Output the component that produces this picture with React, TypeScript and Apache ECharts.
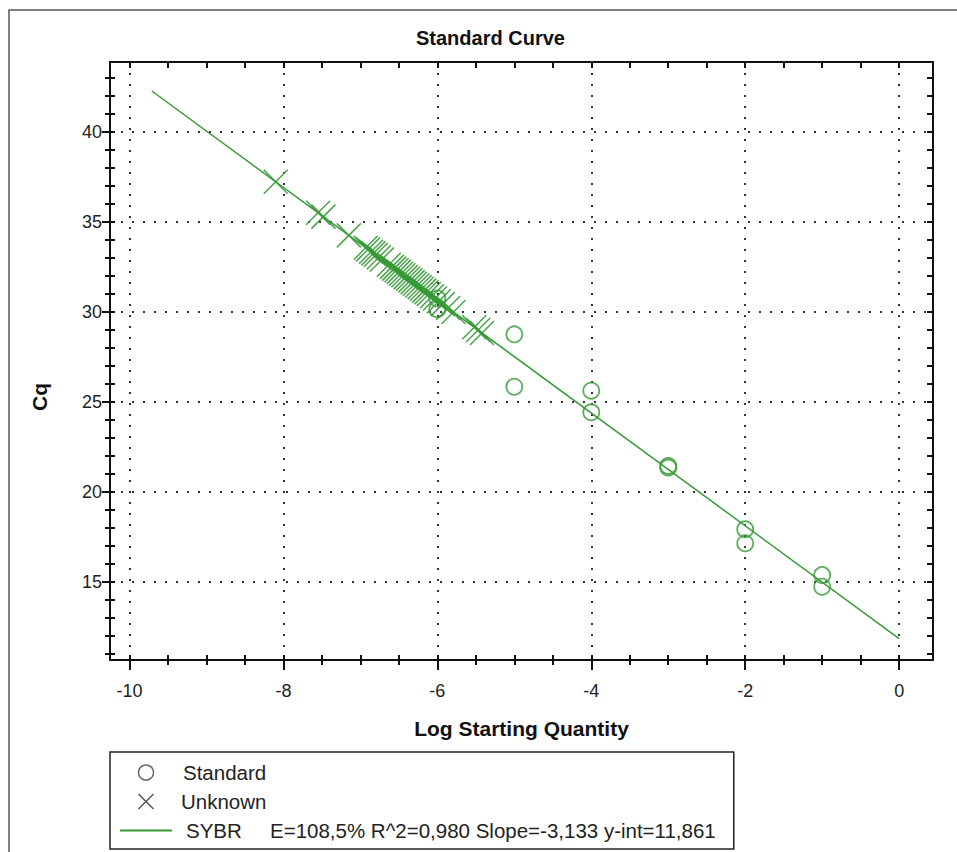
import React, { useEffect, useRef } from 'react';
import * as echarts from 'echarts';

// ---- data ----
const standardX = [-6, -6, -5, -5, -4, -4, -3, -3, -2, -2, -1, -1];
const standardCq = [30.75, 30.15, 28.76, 25.85, 25.63, 24.43, 21.45, 21.36, 17.93, 17.15, 15.39, 14.74];

const unknownX = [
  -8.1, -7.55, -7.48, -7.15, -6.93, -6.9, -6.86, -6.83, -6.8, -6.76, -6.72,
  -6.63, -6.59, -6.56, -6.53, -6.5, -6.47, -6.44, -6.41, -6.38, -6.35, -6.32,
  -6.29, -6.26, -6.23, -6.2, -6.17, -6.14, -6.11, -6.07, -6.03, -5.98, -5.93,
  -5.86, -5.79, -5.52, -5.47, -5.42,
];
const unknownCq = [
  37.24, 35.52, 35.3, 34.26, 33.57, 33.48, 33.35, 33.26, 33.17, 33.04, 32.92,
  32.63, 32.51, 32.41, 32.32, 32.23, 32.13, 32.04, 31.94, 31.85, 31.76, 31.66,
  31.57, 31.47, 31.38, 31.29, 31.19, 31.1, 31.0, 30.88, 30.75, 30.6, 30.44,
  30.22, 30.0, 29.16, 29.0, 28.84,
];

const fitX = [-9.71, 0];
const fitCq = [42.28, 11.86];
const fitLabel = 'E=108,5% R^2=0,980 Slope=-3,133 y-int=11,861';

const xMajorTicks = [-10, -8, -6, -4, -2, 0];
const xMinorTicks = [-9.5, -9, -8.5, -7.5, -7, -6.5, -5.5, -5, -4.5, -3.5, -3, -2.5, -1.5, -1, -0.5];
const yMajorTicks = [15, 20, 25, 30, 35, 40];
const yMinorTicks = [11, 12, 13, 14, 16, 17, 18, 19, 21, 22, 23, 24, 26, 27, 28, 29, 31, 32, 33, 34, 36, 37, 38, 39, 41, 42, 43];

const GREEN = '#379a37';
const FONT = '"Liberation Sans", Arial, sans-serif';

export default function App() {
  const ref = useRef<HTMLDivElement>(null);

  useEffect(() => {
    const chart = echarts.init(ref.current!, undefined, { renderer: 'svg' });
    const xMin = -10.253;
    const xMax = 0.44;
    const yMin = 10.67;
    const yMax = 43.89;
    const tickLine = { color: '#111', width: 2 };
    const dotted = { type: [2, 9], width: 2, color: '#333' };

    const baseX: any = {
      type: 'value', min: xMin, max: xMax, gridIndex: 0,
      axisLine: { show: false, onZero: false }, axisLabel: { show: false },
      splitLine: { show: false }, axisTick: { show: false },
    };
    const baseY: any = {
      type: 'value', min: yMin, max: yMax, gridIndex: 0,
      axisLine: { show: false, onZero: false }, axisLabel: { show: false },
      splitLine: { show: false }, axisTick: { show: false },
    };
    const xAll = [...xMajorTicks, ...xMinorTicks];
    const yAll = [...yMajorTicks, ...yMinorTicks];

    chart.setOption({
      animation: false,
      backgroundColor: '#fff',
      title: {
        text: 'Standard Curve', left: 411, top: 23,
        textStyle: { fontSize: 20, fontWeight: 'bold', color: '#111', fontFamily: FONT },
      },
      graphic: [
        {
          type: 'rect', silent: true, z: -10,
          shape: { x: 9, y: 10, width: 980, height: 880 },
          style: { fill: 'none', stroke: '#555', lineWidth: 1.5 },
        },
      ],
      grid: {
        left: 110, right: 24, top: 62, bottom: 192,
        show: true, borderColor: '#111', borderWidth: 2, backgroundColor: 'transparent',
      },
      xAxis: [
        {
          ...baseX, position: 'bottom',
          axisTick: { show: true, customValues: xMajorTicks, length: 10, lineStyle: tickLine },
          axisLabel: { show: true, customValues: xMajorTicks, margin: 22, fontSize: 18, color: '#222', fontFamily: FONT },
          splitLine: { show: true, lineStyle: dotted },
          name: 'Log Starting Quantity', nameLocation: 'middle', nameGap: 58,
          nameTextStyle: { fontSize: 21, fontWeight: 'bold', color: '#111', fontFamily: FONT },
        },
        { ...baseX, position: 'bottom', axisTick: { show: true, customValues: xMinorTicks, length: 5, lineStyle: tickLine } },
        { ...baseX, position: 'bottom', axisTick: { show: true, inside: true, customValues: xAll, length: 5, lineStyle: tickLine } },
        { ...baseX, position: 'top', axisTick: { show: true, inside: true, customValues: xAll, length: 6, lineStyle: tickLine } },
      ],
      yAxis: [
        {
          ...baseY, position: 'left',
          axisTick: { show: true, customValues: yMajorTicks, length: 8, lineStyle: tickLine },
          axisLabel: { show: true, customValues: yMajorTicks, margin: 8, fontSize: 18, color: '#222', fontFamily: FONT },
          splitLine: { show: true, lineStyle: dotted },
          name: 'Cq', nameLocation: 'middle', nameGap: 60, nameRotate: 90,
          nameTextStyle: { fontSize: 21, fontWeight: 'bold', color: '#111', fontFamily: FONT, padding: [0, 72, 0, 0] },
        },
        { ...baseY, position: 'left', axisTick: { show: true, customValues: yMinorTicks, length: 5, lineStyle: tickLine } },
        { ...baseY, position: 'left', axisTick: { show: true, inside: true, customValues: yAll, length: 5, lineStyle: tickLine } },
        { ...baseY, position: 'right', axisTick: { show: true, inside: true, customValues: yAll, length: 6, lineStyle: tickLine } },
      ],
      legend: {
        orient: 'vertical', left: 110, top: 752,
        padding: [10, 18, 8, 10],
        borderColor: '#222', borderWidth: 1.5,
        itemWidth: 52, itemHeight: 15, itemGap: 8,
        selectedMode: false,
        textStyle: {
          fontSize: 20.5, color: '#222', fontFamily: FONT,
          rich: {
            s: { fontSize: 20.5, fontFamily: FONT, color: '#222', padding: [0, 0, 0, 6] },
            u: { fontSize: 20.5, fontFamily: FONT, color: '#222', padding: [0, 0, 0, 4] },
            n: { fontSize: 20.5, fontFamily: FONT, color: '#222', padding: [0, 0, 0, 9], width: 84 },
            e: { fontSize: 20.5, fontFamily: FONT, color: '#222' },
          },
        },
        formatter: (name: string) => {
          if (name === 'SYBR') return `{n|SYBR}{e|${fitLabel}}`;
          if (name === 'Standard') return `{s|Standard}`;
          return `{u|${name}}`;
        },
        data: [
          { name: 'Standard', icon: 'circle', itemStyle: { color: 'transparent', borderColor: '#444', borderWidth: 1.5 } },
          { name: 'Unknown', icon: 'path://M0,0L10,10M10,0L0,10', itemStyle: { color: 'transparent', borderColor: '#444', borderWidth: 1.5 } },
          { name: 'SYBR', icon: 'path://M0,0L52,0L52,2L0,2Z', itemStyle: { color: GREEN, borderWidth: 0 } },
        ],
      },
      series: [
        {
          name: 'SYBR', type: 'line', xAxisIndex: 0, yAxisIndex: 0,
          data: fitX.map((x, i) => [x, fitCq[i]]),
          symbol: 'none', lineStyle: { color: GREEN, width: 1.5 }, itemStyle: { color: GREEN }, z: 2,
        },
        {
          name: 'Standard', type: 'scatter', xAxisIndex: 0, yAxisIndex: 0,
          data: standardX.map((x, i) => [x, standardCq[i]]),
          symbol: 'circle', symbolSize: 16,
          itemStyle: { color: 'transparent', borderColor: GREEN, borderWidth: 1.8 }, z: 3,
        },
        {
          name: 'Unknown', type: 'scatter', xAxisIndex: 0, yAxisIndex: 0,
          data: unknownX.map((x, i) => [x, unknownCq[i]]),
          symbol: 'path://M0,0L10,10M10,0L0,10', symbolSize: 24,
          itemStyle: { color: 'transparent', borderColor: GREEN, borderWidth: 1.5, opacity: 0.9 }, z: 3,
        },
      ],
    });
    return () => chart.dispose();
  }, []);

  return (
    <div
      ref={ref}
      style={{ position: 'fixed', left: 0, top: 0, width: 957, height: 852, background: '#fff' }}
    />
  );
}
